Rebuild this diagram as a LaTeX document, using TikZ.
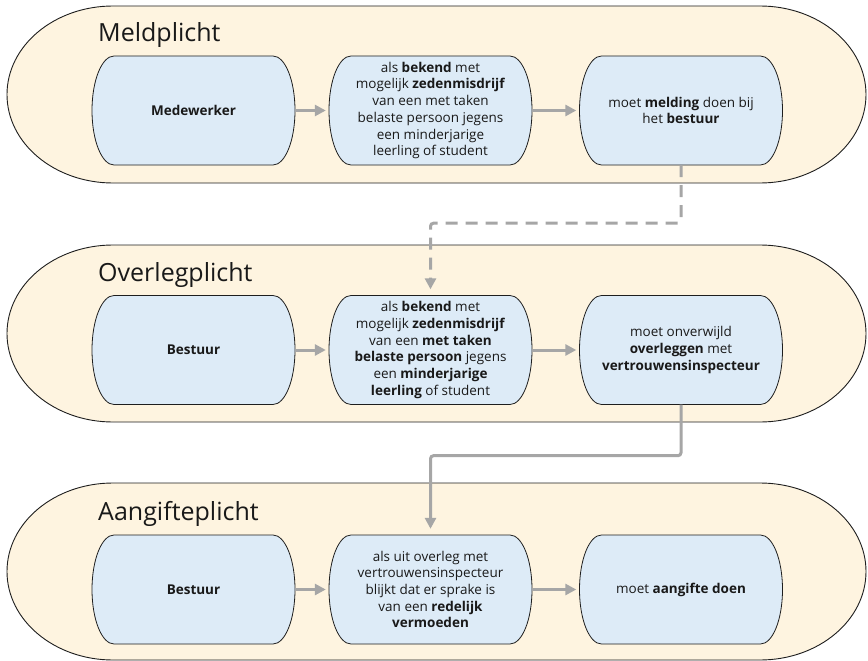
\documentclass[tikz,border=0pt]{standalone}
\usepackage{fontspec}
\setmainfont{Open Sans}
\usetikzlibrary{arrows.meta,calc}
\definecolor{bandfill}{HTML}{FEF4E0}
\definecolor{boxfill}{HTML}{DDEBF7}
\definecolor{arrowgray}{HTML}{A6A6A6}
\definecolor{edgecol}{HTML}{1E1E1E}
\newcommand\bandat[1]{%
  \draw[bandshape] (113,#1) -- (760,#1)
    arc[start angle=90,end angle=-90,x radius=106pt,y radius=88.5pt]
    -- (113,#1+177)
    arc[start angle=270,end angle=90,x radius=106pt,y radius=88.5pt] -- cycle;}
\newcommand\capbox[4]{%
  \draw[capsule] (#2-79.5,#3-54.5) -- (#2+79.5,#3-54.5)
    arc[start angle=90,end angle=-90,x radius=22pt,y radius=54.5pt]
    -- (#2-79.5,#3+54.5)
    arc[start angle=270,end angle=90,x radius=22pt,y radius=54.5pt] -- cycle;
  \node[box] (#1) at (#2,#3) {#4};}
\begin{document}
\begin{tikzpicture}[x=1pt,y=-1pt,
  bandshape/.style={fill=bandfill,draw=edgecol,line width=0.9pt},
  capsule/.style={fill=boxfill,draw=edgecol,line width=0.8pt},
  box/.style={minimum width=203pt,minimum height=109pt,inner sep=0pt,align=center,
    text=black!90,font=\fontsize{13.5pt}{16.7pt}\selectfont},
  title/.style={anchor=base west,inner sep=0pt,text=black!90,font=\fontsize{25pt}{30pt}\selectfont},
  flow/.style={draw=arrowgray,line width=3pt,shorten >=3pt,-{Triangle[length=11pt,width=11pt]}},
  link/.style={draw=arrowgray,line width=3pt,rounded corners=3pt,shorten >=6pt,-{Triangle[length=11pt,width=11pt]}},
  dashlink/.style={link,dash pattern=on 12pt off 8pt}]
\useasboundingbox (0,0) rectangle (868,661);
\bandat{6}
\bandat{245}
\bandat{483}
\node[title] (t1) at (98,42) {Meldplicht};
\node[title] (t2) at (98,281) {Overlegplicht};
\node[title] (t3) at (98,520) {Aangifteplicht};
\capbox{b11}{193.5}{110.5}{\textbf{Medewerker}}
\capbox{b12}{430.5}{110.5}{als \textbf{bekend} met\\mogelijk \textbf{zedenmisdrijf}\\van een met taken\\belaste persoon jegens\\een minderjarige\\leerling of student}
\capbox{b13}{681}{110.5}{moet \textbf{melding} doen bij\\het \textbf{bestuur}}
\capbox{b21}{193.5}{350}{\textbf{Bestuur}}
\capbox{b22}{430.5}{350}{als \textbf{bekend} met\\mogelijk \textbf{zedenmisdrijf}\\van een \textbf{met taken}\\\textbf{belaste persoon} jegens\\een \textbf{minderjarige}\\\textbf{leerling} of student}
\capbox{b23}{681}{350}{moet onverwijld\\\textbf{overleggen} met\\\textbf{vertrouwensinspecteur}}
\capbox{b31}{193.5}{589.5}{\textbf{Bestuur}}
\capbox{b32}{430.5}{589.5}{als uit overleg met\\vertrouwensinspecteur\\blijkt dat er sprake is\\van een \textbf{redelijk}\\\textbf{vermoeden}}
\capbox{b33}{681}{589.5}{moet \textbf{aangifte doen}}
\draw[flow] (b11.east) -- (b12.west);
\draw[flow] (b12.east) -- (b13.west);
\draw[flow] (b21.east) -- (b22.west);
\draw[flow] (b22.east) -- (b23.west);
\draw[flow] (b31.east) -- (b32.west);
\draw[flow] (b32.east) -- (b33.west);
\draw[dashlink] (b13.south) -- ++(0,58) -| (b22.north);
\draw[link] (b23.south) -- ++(0,51) -| (b32.north);
\end{tikzpicture}
\end{document}
